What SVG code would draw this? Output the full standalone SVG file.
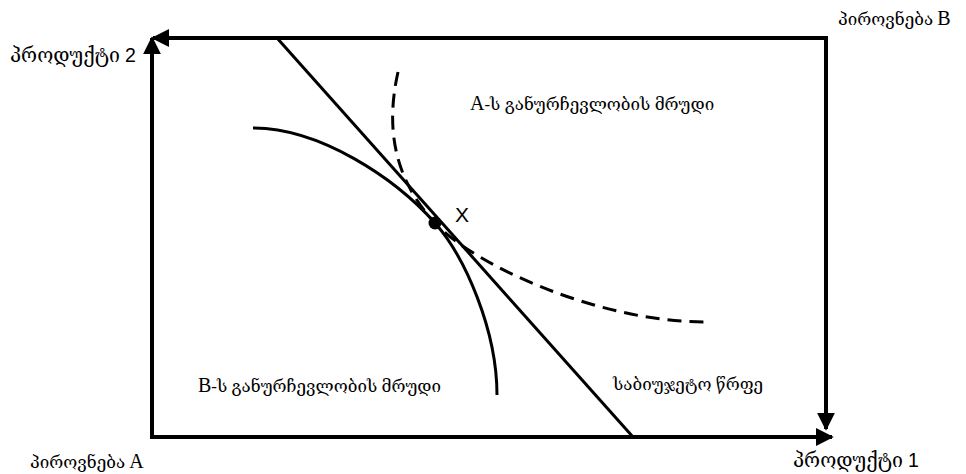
<svg xmlns="http://www.w3.org/2000/svg" width="966" height="474" viewBox="0 0 966 474">
<style>
.ax{stroke:#000;stroke-width:4;fill:none}
.cv{stroke:#000;stroke-width:3;fill:none}
.t{font-family:"Liberation Serif","DejaVu Serif","DejaVu Sans",serif;font-size:17px;fill:#000}
.p{font-size:19.5px}
.L{font-size:20px}
.s{font-family:"Liberation Sans",Arial,sans-serif;fill:#000}
</style>
<defs>
<marker id="ar" viewBox="0 0 10 10" refX="9" refY="5" markerWidth="4.5" markerHeight="4.5" orient="auto" markerUnits="strokeWidth">
<path d="M0,0 L10,5 L0,10 z" fill="#000"/>
</marker>
</defs>
<rect width="966" height="474" fill="#fff"/>
<g id="connectors">
<line class="ax" x1="152" y1="439" x2="152" y2="38" marker-end="url(#ar)"/>
<line class="ax" x1="828" y1="38" x2="153" y2="38" marker-end="url(#ar)"/>
<line class="ax" x1="826" y1="38" x2="826" y2="429" marker-end="url(#ar)"/>
<line class="ax" x1="150" y1="437" x2="832" y2="437" marker-end="url(#ar)"/>
</g>
<g id="budget-line"><line class="cv" x1="277" y1="38" x2="633" y2="437"/></g>
<g id="curve-B"><path class="cv" d="M253,128 C320,128 395,178 435,223 C465,257 497,330 497,395"/></g>
<g id="curve-A"><path class="cv" stroke-dasharray="14,8" d="M398,72 C385,130 395,180 435,223 C475,266 600,322 705,322"/></g>
<g id="point-X">
<circle cx="435" cy="223" r="6.5" fill="#000"/>
<text class="s" x="455" y="222" font-size="21">X</text>
</g>
<g id="labels">
<text class="t p" x="10" y="62">პროდუქტი <tspan class="s">2</tspan></text>
<text class="t" x="838" y="25">პიროვნება <tspan class="L">B</tspan></text>
<text class="t" x="30" y="468">პიროვნება <tspan class="L">A</tspan></text>
<text class="t p" x="793" y="467">პროდუქტი <tspan class="s">1</tspan></text>
<text class="t" x="470" y="110"><tspan class="L">A</tspan>-ს განურჩევლობის მრუდი</text>
<text class="t" x="198" y="392"><tspan class="L">B</tspan>-ს განურჩევლობის მრუდი</text>
<text class="t" x="613" y="390">საბიუჯეტო წრფე</text>
</g>
</svg>
